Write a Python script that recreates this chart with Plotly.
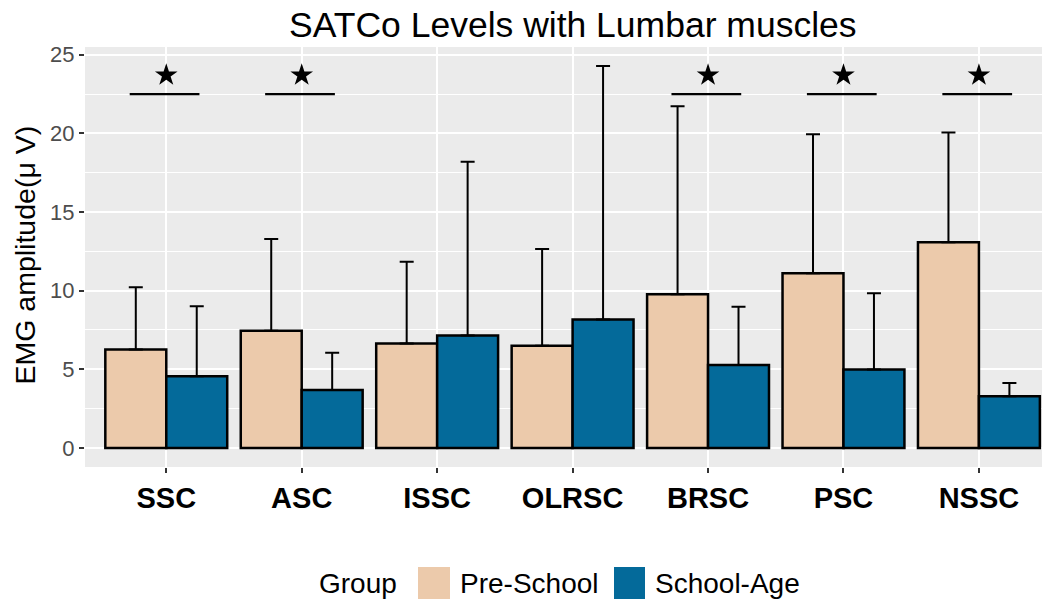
import plotly.graph_objects as go

# ---- data ----
categories = ["SSC", "ASC", "ISSC", "OLRSC", "BRSC", "PSC", "NSSC"]
pre_school_mean = [6.26, 7.45, 6.64, 6.50, 9.77, 11.11, 13.07]
pre_school_upper = [10.22, 13.28, 11.83, 12.65, 21.72, 19.95, 20.05]
school_age_mean = [4.55, 3.68, 7.14, 8.16, 5.27, 4.99, 3.28]
school_age_upper = [9.00, 6.05, 18.20, 24.28, 8.98, 9.84, 4.12]
significant = [True, True, False, False, True, True, True]
sig_level = 22.5
star_level = 23.7
y_ticks = [0, 5, 10, 15, 20, 25]

pre_sd = [u - m for u, m in zip(pre_school_upper, pre_school_mean)]
school_sd = [u - m for u, m in zip(school_age_upper, school_age_mean)]

PRE_COLOR = "#ECCAAB"
SCH_COLOR = "#046A9A"
FONT = "Liberation Sans, Arial, sans-serif"

# page body has an 8px default margin: lay out in screen pixels, minus offset
OFF = 8
W, H = 1050 - OFF, 601 - OFF
PANEL_L, PANEL_R, PANEL_T, PANEL_B = 85, 1048, 47, 467   # screen pixels
ML, MT = PANEL_L - OFF, PANEL_T - OFF
MR, MB = W - (PANEL_R - OFF), H - (PANEL_B - OFF)
PW, PH = PANEL_R - PANEL_L, PANEL_B - PANEL_T


def px_x(p):
    return (p - PANEL_L) / PW


def px_y(p):
    return 1 - (p - PANEL_T) / PH


fig = go.Figure()

fig.add_trace(go.Bar(
    x=categories, y=pre_school_mean, name="Pre-School",
    marker=dict(color=PRE_COLOR, line=dict(color="black", width=2.5)),
    error_y=dict(type="data", symmetric=False, array=pre_sd,
                 arrayminus=[0] * len(pre_sd), color="black",
                 thickness=2, width=7),
    showlegend=False,
))
fig.add_trace(go.Bar(
    x=categories, y=school_age_mean, name="School-Age",
    marker=dict(color=SCH_COLOR, line=dict(color="black", width=2.5)),
    error_y=dict(type="data", symmetric=False, array=school_sd,
                 arrayminus=[0] * len(school_sd), color="black",
                 thickness=2, width=7),
    showlegend=False,
))

# significance stars
star_x = [c for c, s in zip(categories, significant) if s]
fig.add_trace(go.Scatter(
    x=star_x, y=[star_level] * len(star_x), mode="markers",
    marker=dict(symbol="star", size=17, color="black", line=dict(width=0)),
    showlegend=False, hoverinfo="skip",
))

shapes = []
for i, s in enumerate(significant):
    if s:
        shapes.append(dict(type="line", xref="x", yref="y",
                           x0=i - 0.27, x1=i + 0.245,
                           y0=sig_level, y1=sig_level,
                           line=dict(color="black", width=2.2)))

# manual legend (ggplot-style, bottom)
legend_y0, legend_y1 = 567, 599
for (x0, x1, col) in [(418, 450, PRE_COLOR), (614, 645, SCH_COLOR)]:
    shapes.append(dict(type="rect", xref="paper", yref="paper",
                       x0=px_x(x0), x1=px_x(x1),
                       y0=px_y(legend_y1), y1=px_y(legend_y0),
                       fillcolor=col, line=dict(width=0), layer="above"))

annotations = [
    dict(text="Group", x=px_x(317), y=px_y(583), xref="paper", yref="paper",
         xanchor="left", yanchor="middle", showarrow=False,
         font=dict(size=28, color="black", family=FONT)),
    dict(text="Pre-School", x=px_x(458), y=px_y(583), xref="paper", yref="paper",
         xanchor="left", yanchor="middle", showarrow=False,
         font=dict(size=28, color="black", family=FONT)),
    dict(text="School-Age", x=px_x(653), y=px_y(583), xref="paper", yref="paper",
         xanchor="left", yanchor="middle", showarrow=False,
         font=dict(size=28, color="black", family=FONT)),
    dict(text="EMG amplitude(\u03bc V)", x=px_x(24), y=px_y(255.5),
         xref="paper", yref="paper", xanchor="center", yanchor="middle",
         textangle=-90, showarrow=False,
         font=dict(size=28.5, color="black", family=FONT)),
    dict(text="SATCo Levels with Lumbar muscles", x=px_x(573), y=px_y(25),
         xref="paper", yref="paper", xanchor="center", yanchor="middle",
         showarrow=False, font=dict(size=35.5, color="black", family=FONT)),
]

fig.update_layout(
    width=W, height=H,
    margin=dict(l=ML, r=MR, t=MT, b=MB, pad=0, autoexpand=False),
    paper_bgcolor="white", plot_bgcolor="#EBEBEB",
    font=dict(family=FONT),
    barmode="group", bargap=0.1, bargroupgap=0,
    shapes=shapes, annotations=annotations,
    showlegend=False,
)

fig.update_xaxes(
    type="category", range=[-0.6, 6.51], automargin=False,
    showgrid=True, gridcolor="white", gridwidth=2,
    ticks="outside", ticklen=5, tickwidth=1.5, tickcolor="#333333",
    tickfont=dict(size=29, color="black", family=FONT, weight="bold"),
    showline=False, zeroline=False,
)
fig.update_yaxes(
    range=[-1.214, 25.49], automargin=False,
    tickvals=y_ticks,
    showgrid=True, gridcolor="white", gridwidth=2,
    minor=dict(dtick=2.5, tick0=0, showgrid=True, gridcolor="white", gridwidth=1),
    ticks="outside", ticklen=5, tickwidth=1.5, tickcolor="#333333",
    tickfont=dict(size=22, color="#4D4D4D", family=FONT),
    showline=False, zeroline=False,
)

fig.write_html("out.html")
